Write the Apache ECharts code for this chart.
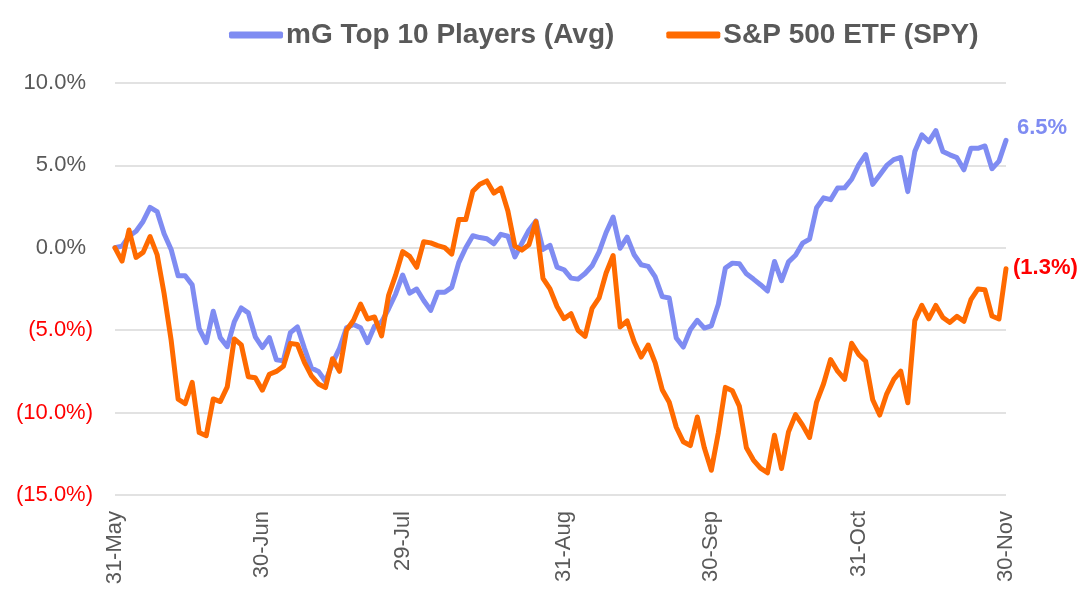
<!DOCTYPE html>
<html>
<head>
<meta charset="utf-8">
<script src="https://cdn.jsdelivr.net/npm/echarts@6/dist/echarts.min.js"></script>
<style>
  html, body { margin: 0; padding: 0; background: #ffffff; }
  #chart { width: 1087px; height: 608px; }
</style>
</head>
<body>
<div id="chart"></div>
<script>
// Trading days, 31-May to 30-Nov
const categories = [
  '31-May',
  '1-Jun','2-Jun','3-Jun','6-Jun','7-Jun','8-Jun','9-Jun','10-Jun','13-Jun','14-Jun','15-Jun','16-Jun','17-Jun','21-Jun','22-Jun','23-Jun','24-Jun','27-Jun','28-Jun','29-Jun','30-Jun',
  '1-Jul','5-Jul','6-Jul','7-Jul','8-Jul','11-Jul','12-Jul','13-Jul','14-Jul','15-Jul','18-Jul','19-Jul','20-Jul','21-Jul','22-Jul','25-Jul','26-Jul','27-Jul','28-Jul','29-Jul',
  '1-Aug','2-Aug','3-Aug','4-Aug','5-Aug','8-Aug','9-Aug','10-Aug','11-Aug','12-Aug','15-Aug','16-Aug','17-Aug','18-Aug','19-Aug','22-Aug','23-Aug','24-Aug','25-Aug','26-Aug','29-Aug','30-Aug','31-Aug',
  '1-Sep','2-Sep','6-Sep','7-Sep','8-Sep','9-Sep','12-Sep','13-Sep','14-Sep','15-Sep','16-Sep','19-Sep','20-Sep','21-Sep','22-Sep','23-Sep','26-Sep','27-Sep','28-Sep','29-Sep','30-Sep',
  '3-Oct','4-Oct','5-Oct','6-Oct','7-Oct','10-Oct','11-Oct','12-Oct','13-Oct','14-Oct','17-Oct','18-Oct','19-Oct','20-Oct','21-Oct','24-Oct','25-Oct','26-Oct','27-Oct','28-Oct','31-Oct',
  '1-Nov','2-Nov','3-Nov','4-Nov','7-Nov','8-Nov','9-Nov','10-Nov','11-Nov','14-Nov','15-Nov','16-Nov','17-Nov','18-Nov','21-Nov','22-Nov','23-Nov','25-Nov','28-Nov','29-Nov','30-Nov'
];

const tickLabels = ['31-May','30-Jun','29-Jul','31-Aug','30-Sep','31-Oct','30-Nov'];

const seriesNames = ['mG Top 10 Players (Avg)', 'S&P 500 ETF (SPY)'];

// Cumulative % change
const mgTop10 = [
  0.0,
  0.1, 0.7, 1.0, 1.6, 2.45, 2.2, 0.85, -0.1, -1.7, -1.7, -2.25, -4.9, -5.75, -3.85, -5.45, -6.0, -4.5, -3.65, -3.95, -5.4, -6.05,
  -5.45, -6.8, -6.85, -5.15, -4.8, -6.1, -7.3, -7.5, -8.1, -7.0, -6.1, -4.85, -4.65, -4.85, -5.75, -4.75, -4.5, -3.7, -2.8, -1.65,
  -2.75, -2.5, -3.2, -3.8, -2.7, -2.7, -2.4, -0.9, 0.0, 0.73, 0.62, 0.55, 0.24, 0.82, 0.7, -0.55, 0.28, 1.07, 1.63, -0.1, 0.15, -1.17, -1.33,
  -1.84, -1.9, -1.56, -1.09, -0.25, 0.93, 1.86, -0.03, 0.65, -0.42, -1.03, -1.13, -1.77, -2.96, -3.05, -5.47, -6.02, -4.97, -4.4, -4.87, -4.73,
  -3.42, -1.23, -0.93, -0.97, -1.58, -1.9, -2.24, -2.62, -0.83, -2.0, -0.85, -0.45, 0.28, 0.53, 2.43, 3.03, 2.92, 3.63, 3.64, 4.16, 5.03,
  5.66, 3.85, 4.42, 5.0, 5.35, 5.48, 3.41, 5.84, 6.85, 6.44, 7.11, 5.84, 5.64, 5.47, 4.73, 6.04, 6.04, 6.18, 4.8, 5.26, 6.52
];

const spy = [
  0.0,
  -0.81, 1.08, -0.58, -0.28, 0.68, -0.41, -2.78, -5.60, -9.19, -9.46, -8.17, -11.21, -11.40, -9.17, -9.33, -8.44, -5.53, -5.89, -7.82, -7.89, -8.64,
  -7.67, -7.50, -7.19, -5.80, -5.87, -6.95, -7.77, -8.26, -8.48, -6.73, -7.50, -5.00, -4.40, -3.42, -4.32, -4.20, -5.34, -2.88, -1.66, -0.23,
  -0.52, -1.18, 0.37, 0.30, 0.13, 0.01, -0.38, 1.71, 1.71, 3.43, 3.86, 4.06, 3.32, 3.62, 2.23, 0.10, -0.14, 0.18, 1.59, -1.85, -2.49, -3.56, -4.30,
  -4.00, -5.01, -5.37, -3.67, -3.04, -1.53, -0.47, -4.80, -4.44, -5.70, -6.63, -5.90, -6.98, -8.61, -9.37, -10.89, -11.77, -12.00, -10.27, -12.14, -13.50,
  -11.22, -8.47, -8.68, -9.62, -12.14, -12.88, -13.37, -13.65, -11.37, -13.39, -11.17, -10.12, -10.76, -11.51, -9.36, -8.25, -6.78, -7.49, -7.98, -5.79, -6.47,
  -6.88, -9.22, -10.15, -8.86, -7.99, -7.49, -9.40, -4.42, -3.49, -4.31, -3.50, -4.23, -4.53, -4.16, -4.46, -3.15, -2.50, -2.55, -4.14, -4.32, -1.27
];

const FONT = "'Liberation Sans', Arial, sans-serif";
const BLUE = '#7F8CF2';
const ORANGE = '#FF6A00';
const GREY = '#595959';
const RED = '#FF0000';

function fmtPct(v) {
  const s = Math.abs(v).toFixed(1) + '%';
  return v < 0 ? '(' + s + ')' : s;
}

const chart = echarts.init(document.getElementById('chart'), null, { renderer: 'canvas' });

chart.setOption({
  animation: false,
  backgroundColor: '#ffffff',
  textStyle: { fontFamily: FONT },
  legend: {
    data: seriesNames,
    left: 224,
    top: 16,
    icon: 'roundRect',
    itemWidth: 54,
    itemHeight: 7,
    itemGap: 52,
    textStyle: { fontFamily: FONT, fontSize: 28, fontWeight: 'bold', color: GREY, padding: [0, 0, 0, -2] }
  },
  grid: { left: 115, right: 81, top: 83, bottom: 113, containLabel: false },
  xAxis: {
    type: 'category',
    data: categories,
    boundaryGap: false,
    axisLine: { show: false },
    axisTick: { show: false },
    splitLine: { show: false },
    axisLabel: {
      rotate: 90,
      margin: 16,
      fontFamily: FONT,
      fontSize: 22,
      color: GREY,
      interval: function (idx, val) { return tickLabels.indexOf(val) >= 0; }
    }
  },
  yAxis: {
    type: 'value',
    min: -15,
    max: 10,
    interval: 5,
    axisLine: { show: false },
    axisTick: { show: false },
    splitLine: { lineStyle: { color: '#D9D9D9', width: 1.5 } },
    axisLabel: {
      margin: 22,
      fontFamily: FONT,
      fontSize: 22,
      formatter: function (v) {
        return v < 0 ? '{n|' + fmtPct(v) + '}' : '{p|' + fmtPct(v) + '}';
      },
      rich: {
        p: { color: GREY, fontFamily: FONT, fontSize: 22, padding: [0, 7, 0, 0] },
        n: { color: RED, fontFamily: FONT, fontSize: 22 }
      }
    }
  },
  series: [
    {
      name: seriesNames[0],
      type: 'line',
      data: mgTop10,
      showSymbol: false,
      symbol: 'none',
      color: BLUE,
      lineStyle: { color: BLUE, width: 5, cap: 'round', join: 'round' },
      endLabel: {
        show: true,
        formatter: function () { return fmtPct(mgTop10[mgTop10.length - 1]); },
        color: BLUE,
        fontFamily: FONT,
        fontSize: 22,
        fontWeight: 'bold',
        distance: 0,
        offset: [11, -12]
      }
    },
    {
      name: seriesNames[1],
      type: 'line',
      data: spy,
      showSymbol: false,
      symbol: 'none',
      color: ORANGE,
      lineStyle: { color: ORANGE, width: 5, cap: 'round', join: 'round' },
      endLabel: {
        show: true,
        formatter: function () { return fmtPct(spy[spy.length - 1]); },
        color: RED,
        fontFamily: FONT,
        fontSize: 22,
        fontWeight: 'bold',
        distance: 0,
        offset: [7, -1]
      }
    }
  ]
});
</script>
</body>
</html>
